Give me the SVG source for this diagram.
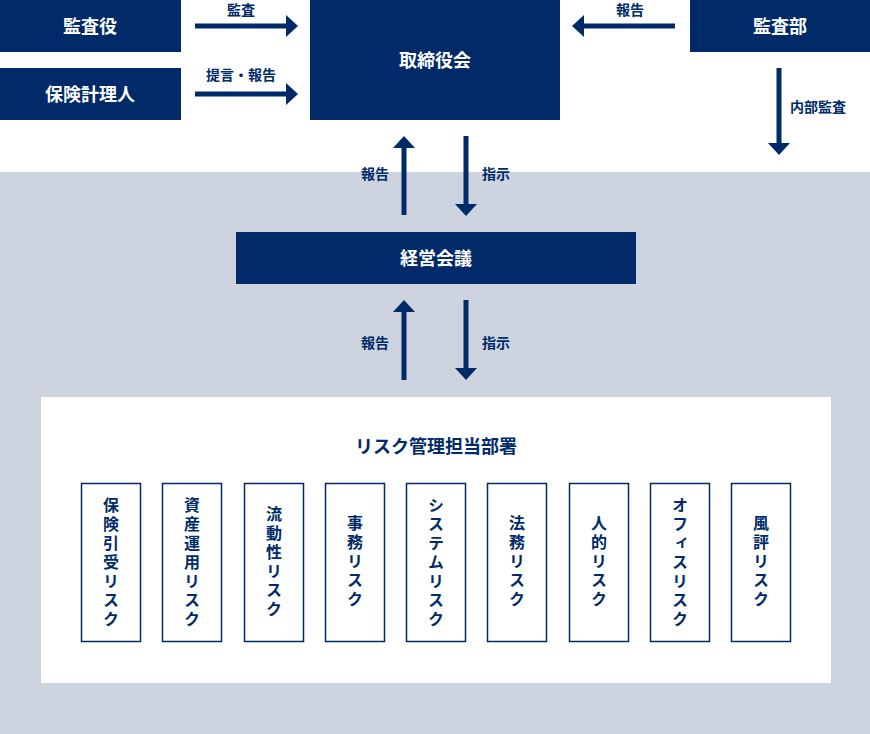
<svg xmlns="http://www.w3.org/2000/svg" width="870" height="734" viewBox="0 0 870 734">
<style>
.n{fill:#002a68}
.t{fill:#fff;font-family:"Noto Sans CJK JP",sans-serif;font-weight:bold;font-size:18px;text-anchor:middle}
.l{fill:#002a68;font-family:"Noto Sans CJK JP",sans-serif;font-weight:bold;font-size:14px}
.s{fill:#fff;stroke:#002a68;stroke-width:1.5}
.v{fill:#002a68;font-family:"Noto Sans CJK JP",sans-serif;font-weight:bold;font-size:16px;writing-mode:vertical-rl;text-orientation:upright;letter-spacing:3px}
.a{stroke:#002a68;stroke-width:5;fill:none}
</style>
<rect width="870" height="734" fill="#fff"/>
<rect y="172" width="870" height="562" fill="#cdd4e0"/>
<g id="kansayaku"><rect class="n" x="0" y="0" width="181" height="52"/><text class="t" x="90" y="33">監査役</text></g>
<g id="hoken"><rect class="n" x="0" y="68" width="181" height="52"/><text class="t" x="90" y="101">保険計理人</text></g>
<g id="torishimari"><rect class="n" x="310" y="0" width="250" height="120"/><text class="t" x="435" y="67">取締役会</text></g>
<g id="kansabu"><rect class="n" x="690" y="0" width="180" height="52"/><text class="t" x="780" y="33">監査部</text></g>
<g id="keiei"><rect class="n" x="236" y="232" width="400" height="52"/><text class="t" x="436" y="265">経営会議</text></g>
<g id="risk"><rect fill="#fff" x="41" y="397" width="790" height="286"/>
<text class="l" x="436" y="453" style="font-size:18px;text-anchor:middle">リスク管理担当部署</text>
<rect class="s" x="81.5" y="483.5" width="59" height="158"/><text class="v" x="111" y="497">保険引受リスク</text>
<rect class="s" x="162.5" y="483.5" width="59" height="158"/><text class="v" x="192" y="497">資産運用リスク</text>
<rect class="s" x="244.5" y="483.5" width="59" height="158"/><text class="v" x="274" y="506">流動性リスク</text>
<rect class="s" x="325.5" y="483.5" width="59" height="158"/><text class="v" x="355" y="515">事務リスク</text>
<rect class="s" x="406.5" y="483.5" width="59" height="158"/><text class="v" x="436" y="497">システムリスク</text>
<rect class="s" x="487.5" y="483.5" width="59" height="158"/><text class="v" x="517" y="515">法務リスク</text>
<rect class="s" x="569.5" y="483.5" width="59" height="158"/><text class="v" x="599" y="515">人的リスク</text>
<rect class="s" x="650.5" y="483.5" width="59" height="158"/><text class="v" x="680" y="497">オフィスリスク</text>
<rect class="s" x="731.5" y="483.5" width="59" height="158"/><text class="v" x="761" y="515">風評リスク</text>
</g>
<g id="connectors">
<path class="a" d="M195 26H287M195 94H287M675 26H583M779 68V144M404 215V147M466 136V205M404 380V311M466 300V369"/>
<g class="n">
<path d="M298 26L286 15V37Z"/><path d="M298 94L286 83V105Z"/><path d="M572 26L584 15V37Z"/>
<path d="M779 155L768 143H790Z"/><path d="M404 136L393 148H415Z"/><path d="M466 216L455 204H477Z"/>
<path d="M404 300L393 312H415Z"/><path d="M466 380L455 368H477Z"/>
</g>
<text class="l" x="241" y="15" text-anchor="middle">監査</text>
<text class="l" x="241" y="80" text-anchor="middle">提言・報告</text>
<text class="l" x="630" y="15" text-anchor="middle">報告</text>
<text class="l" x="790" y="112">内部監査</text>
<text class="l" x="389" y="179" text-anchor="end">報告</text>
<text class="l" x="482" y="179">指示</text>
<text class="l" x="389" y="348" text-anchor="end">報告</text>
<text class="l" x="482" y="348">指示</text>
</g>
</svg>
